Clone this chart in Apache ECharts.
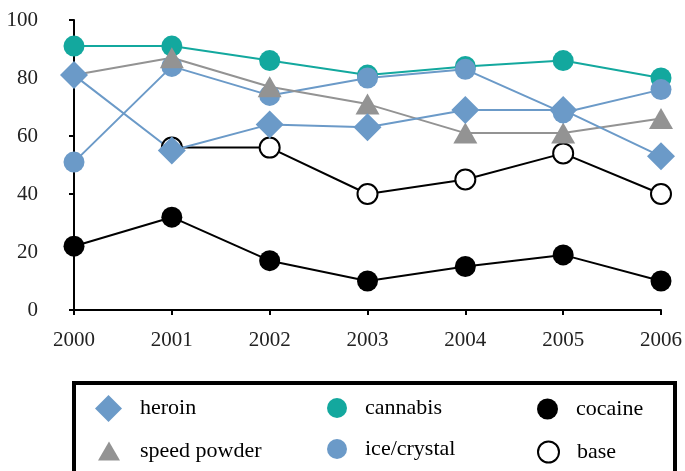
<!DOCTYPE html>
<html>
<head>
<meta charset="utf-8">
<script src="https://cdn.jsdelivr.net/npm/echarts@6/dist/echarts.min.js"></script>
<style>
html,body{margin:0;padding:0;background:#fff;}
#chart{width:685px;height:471px;}
</style>
</head>
<body>
<div id="chart"></div>
<script>
var categories = ['2000', '2001', '2002', '2003', '2004', '2005', '2006'];
var heroin = [81, 55, 64, 63, 69, 69, 53];
var speedPowder = [81, 87, 77, 71, 61, 61, 66];
var cannabis = [91, 91, 86, 81, 84, 86, 80];
var iceCrystal = [51, 84, 74, 80, 83, 68, 76];
var cocaine = [22, 32, 17, 10, 15, 19, 10];
var base = [null, 56, 56, 40, 45, 54, 40];
var yTicks = [0, 20, 40, 60, 80, 100];

var FONT = '"Liberation Serif", "Times New Roman", serif';
var BLUE = '#6B9AC8', TEAL = '#13A89E', GRAY = '#939393';

function legendItem(name, icon, left, top, w, h, pad, itemStyle) {
  var d = { name: name, icon: icon };
  if (itemStyle) d.itemStyle = itemStyle;
  return {
    selectedMode: false,
    orient: 'vertical',
    left: left, top: top,
    itemWidth: w, itemHeight: h,
    symbolKeepAspect: false,
    padding: 0,
    textStyle: { fontFamily: FONT, fontSize: 22, color: '#000', lineHeight: 24, padding: [0, 0, 0, pad] },
    data: [d]
  };
}

var chart = echarts.init(document.getElementById('chart'), null, { renderer: 'canvas' });
chart.setOption({
  animation: false,
  backgroundColor: '#fff',
  grid: { left: 74, right: 23, top: 20, bottom: 161, containLabel: false },
  xAxis: {
    type: 'category',
    data: categories,
    boundaryGap: false,
    axisLine: { lineStyle: { color: '#000', width: 2 } },
    axisTick: { show: true, length: 5, alignWithLabel: true, lineStyle: { color: '#000', width: 2 } },
    axisLabel: { margin: 20, fontFamily: FONT, fontSize: 21, color: '#222' },
    splitLine: { show: false }
  },
  yAxis: {
    type: 'value',
    min: yTicks[0], max: yTicks[yTicks.length - 1], interval: 20,
    axisLine: { show: true, lineStyle: { color: '#000', width: 2 } },
    axisTick: { show: true, length: 5, lineStyle: { color: '#000', width: 2 } },
    axisLabel: { margin: 36, fontFamily: FONT, fontSize: 21, color: '#222' },
    splitLine: { show: false }
  },
  graphic: [{
    type: 'rect',
    shape: { x: 74, y: 383, width: 601, height: 110 },
    style: { fill: 'none', stroke: '#000', lineWidth: 4 },
    z: 0
  }],
  legend: [
    legendItem('heroin', 'diamond', 95, 395, 27, 27, 13),
    legendItem('speed powder', 'triangle', 98, 439, 22, 19, 15),
    legendItem('cannabis', 'circle', 327, 396, 20, 20, 13),
    legendItem('ice/crystal', 'circle', 327, 437, 20, 20, 13),
    legendItem('cocaine', 'circle', 537, 397, 21, 21, 13),
    legendItem('base', 'circle', 537, 440, 21, 21, 13, { color: '#fff', borderColor: '#000', borderWidth: 2 })
  ],
  series: [
    {
      name: 'cocaine', type: 'line', data: cocaine,
      symbol: 'circle', symbolSize: 21,
      lineStyle: { color: '#000', width: 2 },
      itemStyle: { color: '#000' }
    },
    {
      name: 'base', type: 'line', data: base,
      symbol: 'circle', symbolSize: 20,
      lineStyle: { color: '#000', width: 2 },
      itemStyle: { color: '#fff', borderColor: '#000', borderWidth: 2 }
    },
    {
      name: 'cannabis', type: 'line', data: cannabis,
      symbol: 'circle', symbolSize: 21,
      lineStyle: { color: TEAL, width: 2 },
      itemStyle: { color: TEAL }
    },
    {
      name: 'ice/crystal', type: 'line', data: iceCrystal,
      symbol: 'circle', symbolSize: 21,
      lineStyle: { color: BLUE, width: 2 },
      itemStyle: { color: BLUE }
    },
    {
      name: 'speed powder', type: 'line', data: speedPowder,
      symbol: function (v, p) { return p.dataIndex === 0 ? 'none' : 'triangle'; },
      symbolSize: [24, 21],
      lineStyle: { color: GRAY, width: 2 },
      itemStyle: { color: GRAY }
    },
    {
      name: 'heroin', type: 'line', data: heroin,
      symbol: 'diamond', symbolSize: 28,
      lineStyle: { color: BLUE, width: 2 },
      itemStyle: { color: BLUE }
    }
  ]
});
</script>
</body>
</html>
